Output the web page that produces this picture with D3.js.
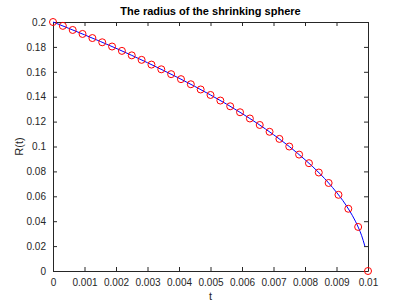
<!DOCTYPE html>
<html>
<head>
<meta charset="utf-8">
<script src="https://cdn.jsdelivr.net/npm/d3@7"></script>
<style>
  body { margin: 0; background: #fff; }
  svg { display: block; font-family: "Liberation Sans", Arial, sans-serif; }
</style>
</head>
<body>
<svg id="chart"></svg>
<script>
// sampled curve (blue line)
var lineT = [0, 0.0005, 0.001, 0.0015, 0.002, 0.0025, 0.003, 0.0035, 0.004, 0.0045,
  0.005, 0.0055, 0.006, 0.0065, 0.007, 0.0075, 0.008, 0.0085, 0.009, 0.0092,
  0.0094, 0.0096, 0.0097, 0.0098, 0.0099]
var lineR = [0.2, 0.1949, 0.1897, 0.1844, 0.1789, 0.1732, 0.1673, 0.1612, 0.1549, 0.1483,
  0.1414, 0.1342, 0.1265, 0.1183, 0.1095, 0.1, 0.0894, 0.0775, 0.0632, 0.0566,
  0.049, 0.04, 0.0346, 0.0283, 0.02]

// red circle markers
var markT = [0, 0.0003125, 0.000625, 0.0009375, 0.00125, 0.0015625, 0.001875, 0.0021875,
  0.0025, 0.0028125, 0.003125, 0.0034375, 0.00375, 0.0040625, 0.004375, 0.0046875,
  0.005, 0.0053125, 0.005625, 0.0059375, 0.00625, 0.0065625, 0.006875, 0.0071875,
  0.0075, 0.0078125, 0.008125, 0.0084375, 0.00875, 0.0090625, 0.009375, 0.0096875, 0.01]
var markR = [0.2, 0.1969, 0.1936, 0.1904, 0.1871, 0.1837, 0.1803, 0.1768,
  0.1732, 0.1696, 0.1658, 0.162, 0.1581, 0.1541, 0.15, 0.1458,
  0.1414, 0.1369, 0.1323, 0.1275, 0.1225, 0.1173, 0.1118, 0.1061,
  0.1, 0.0935, 0.0866, 0.0791, 0.0707, 0.0612, 0.05, 0.0354, 0]

var xTicks = [0, 0.001, 0.002, 0.003, 0.004, 0.005, 0.006, 0.007, 0.008, 0.009, 0.01]
var yTicks = [0, 0.02, 0.04, 0.06, 0.08, 0.1, 0.12, 0.14, 0.16, 0.18, 0.2]

var width = 407
var height = 305
var margin = { top: 22, right: 39, bottom: 34, left: 53 }

var svg = d3.select('#chart').attr('width', width).attr('height', height)

var x = d3.scaleLinear().domain([0, 0.01]).range([margin.left, width - margin.right])
var y = d3.scaleLinear().domain([0, 0.2]).range([height - margin.bottom, margin.top])

var axisColor = '#262626'

function styleAxis(g) {
  g.selectAll('.domain').attr('stroke', axisColor)
  g.selectAll('.tick line').attr('stroke', axisColor)
  g.selectAll('.tick text').attr('fill', axisColor).attr('font-size', 10)
}

svg.append('g')
  .attr('transform', `translate(0,${y(0)})`)
  .call(d3.axisBottom(x).tickValues(xTicks).tickFormat(d3.format('')).tickSizeInner(-4).tickSizeOuter(0).tickPadding(8))
  .call(styleAxis)

svg.append('g')
  .attr('transform', `translate(0,${y(0.2)})`)
  .call(d3.axisTop(x).tickValues(xTicks).tickFormat('').tickSizeInner(-4).tickSizeOuter(0))
  .call(styleAxis)

svg.append('g')
  .attr('transform', `translate(${x(0)},0)`)
  .call(d3.axisLeft(y).tickValues(yTicks).tickFormat(d3.format('')).tickSizeInner(-4).tickSizeOuter(0).tickPadding(7))
  .call(styleAxis)

svg.append('g')
  .attr('transform', `translate(${x(0.01)},0)`)
  .call(d3.axisRight(y).tickValues(yTicks).tickFormat('').tickSizeInner(-4).tickSizeOuter(0))
  .call(styleAxis)

var line = d3.line()
  .x((d, i) => x(lineT[i]))
  .y((d) => y(d))
  .curve(d3.curveMonotoneX)

svg.append('path')
  .datum(lineR)
  .attr('fill', 'none')
  .attr('stroke', '#0000ff')
  .attr('stroke-width', 1)
  .attr('d', line)

svg.append('g')
  .selectAll('circle')
  .data(markR)
  .join('circle')
  .attr('cx', (d, i) => x(markT[i]))
  .attr('cy', (d) => y(d))
  .attr('r', 3.5)
  .attr('fill', 'none')
  .attr('stroke', '#ff0000')
  .attr('stroke-width', 1)

svg.append('text')
  .attr('x', (x(0) + x(0.01)) / 2)
  .attr('y', 15)
  .attr('text-anchor', 'middle')
  .attr('font-size', 11)
  .attr('font-weight', 'bold')
  .attr('fill', '#000')
  .text('The radius of the shrinking sphere')

svg.append('text')
  .attr('x', (x(0) + x(0.01)) / 2)
  .attr('y', 300)
  .attr('text-anchor', 'middle')
  .attr('font-size', 11)
  .attr('fill', axisColor)
  .text('t')

svg.append('text')
  .attr('transform', `translate(23,${(y(0) + y(0.2)) / 2}) rotate(-90)`)
  .attr('text-anchor', 'middle')
  .attr('font-size', 11)
  .attr('fill', axisColor)
  .text('R(t)')
</script>
</body>
</html>
